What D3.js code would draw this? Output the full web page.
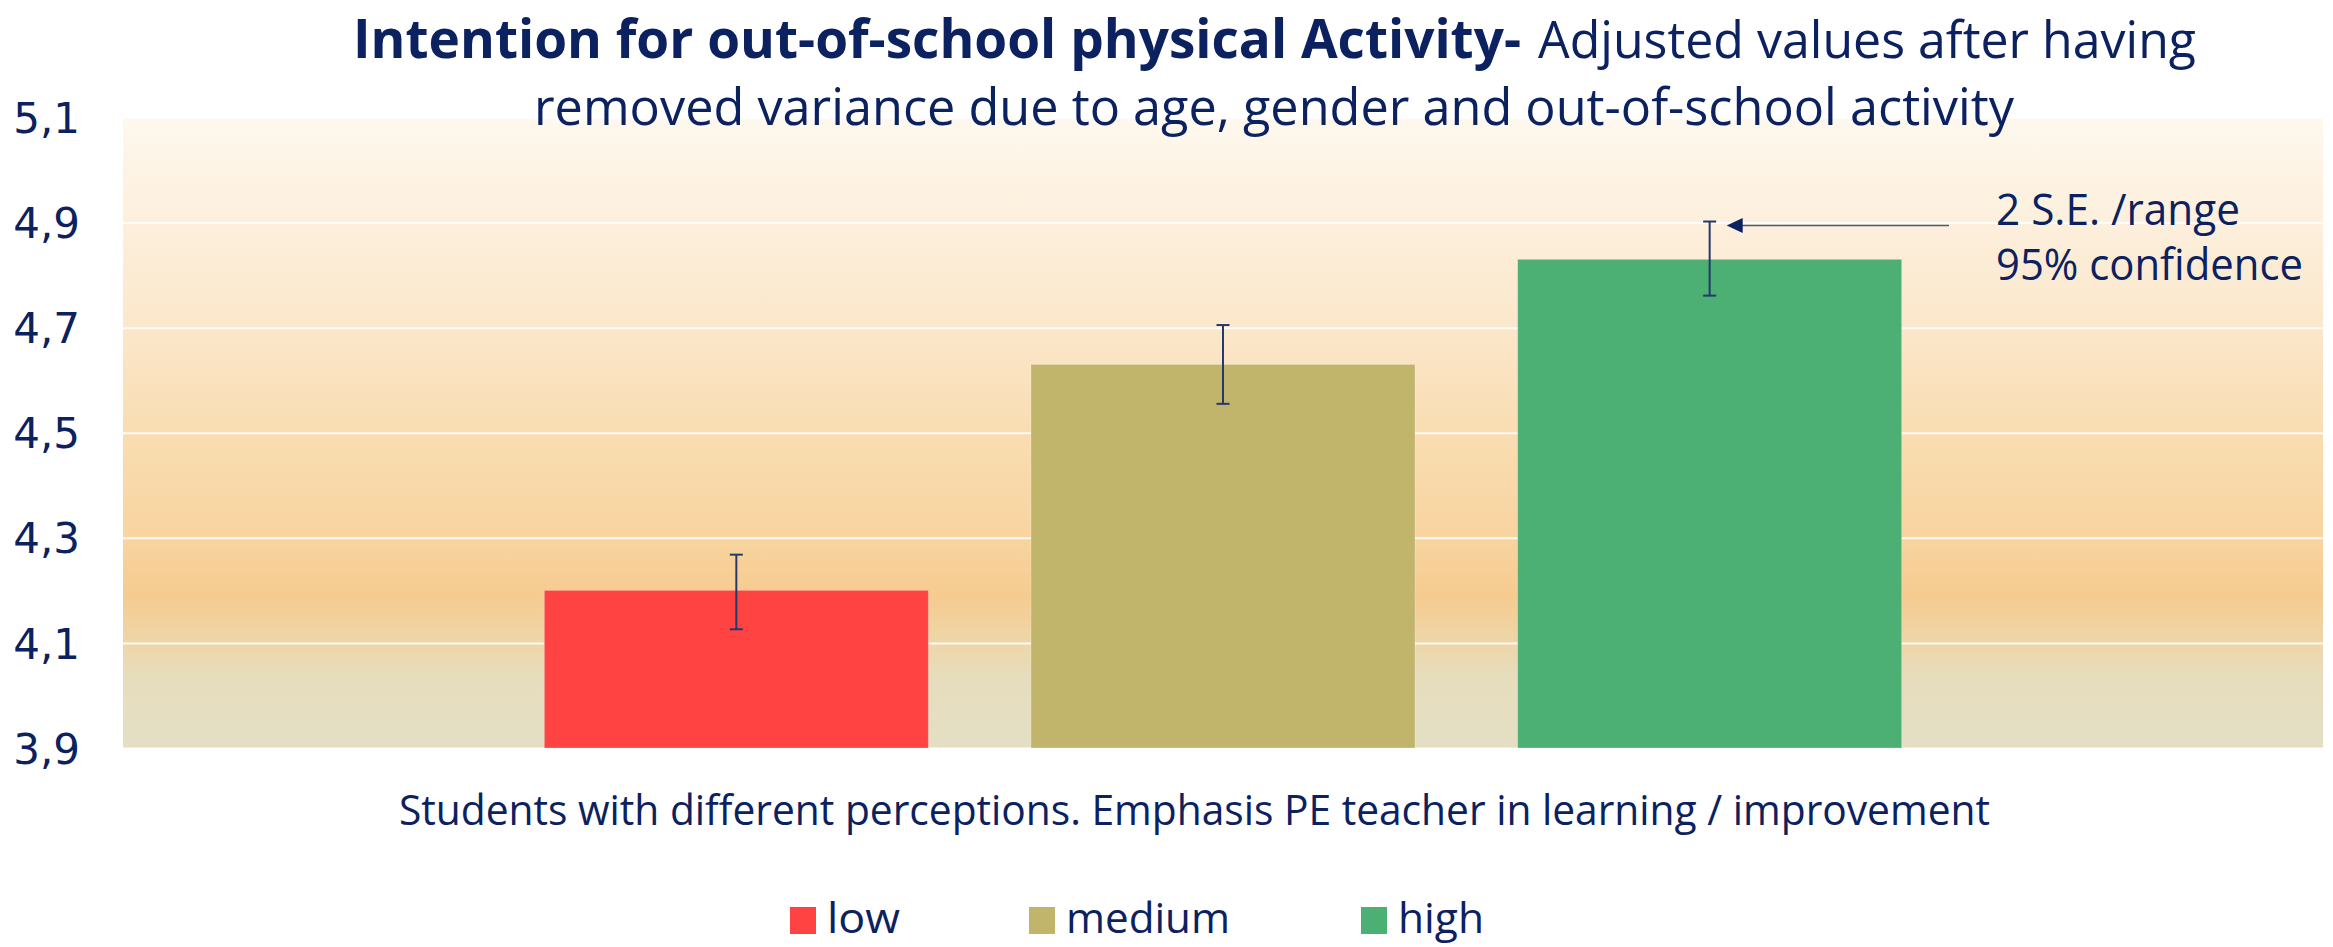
<!DOCTYPE html>
<html>
<head>
<meta charset="utf-8">
<script src="https://cdn.jsdelivr.net/npm/d3@7"></script>
<style>
    html, body { margin: 0; padding: 0; background: #ffffff; }
    svg { display: block; }
    text { fill: #0b2160; }
</style>
</head>
<body>
<div id="divChart"></div>
<script>
// ---- data ----
var categoryLabel = "Students with different perceptions. Emphasis PE teacher in learning / improvement";
var seriesNames = ["low", "medium", "high"];
var meanValues = [4.20, 4.63, 4.83];
var lowerValues = [4.126, 4.555, 4.761];
var upperValues = [4.268, 4.705, 4.902];
var yTickValues = [3.9, 4.1, 4.3, 4.5, 4.7, 4.9, 5.1];

var seriesColors = ["#ff4242", "#c1b46b", "#4caf73"];

var width = 2333, height = 947;
var plot = { left: 123, right: 2323, top: 117.5, bottom: 748 };
var textFont = "'Open Sans', sans-serif";

var svg = d3.select("#divChart").append("svg")
    .attr("width", width)
    .attr("height", height);

//background gradient of the plot area
var defs = svg.append("defs");
var grad = defs.append("linearGradient")
    .attr("id", "plotBg")
    .attr("gradientUnits", "userSpaceOnUse")
    .attr("x1", 0).attr("y1", plot.top)
    .attr("x2", 0).attr("y2", plot.bottom);
[
    [0, "#fef8ee"], [0.33, "#fbe7cb"], [0.5, "#f9ddb2"], [0.67, "#f8d49f"],
    [0.76, "#f6cb90"], [0.83, "#eed6a8"], [0.89, "#e6ddbd"], [1, "#e4dfc4"]
].forEach(function (s) {
    grad.append("stop").attr("offset", s[0]).attr("stop-color", s[1]);
});

var y = d3.scaleLinear()
    .domain([3.9, 5.1])
    .range([plot.bottom, plot.top]);

//one category, three series clustered round the middle of the plot
var x0 = d3.scaleBand()
    .domain([categoryLabel])
    .range([plot.left, plot.right]);
var clusterWidth = 1460;
var xStart = x0(categoryLabel) + (x0.bandwidth() - clusterWidth) / 2;
var x1 = d3.scaleBand()
    .domain(seriesNames)
    .range([xStart, xStart + clusterWidth])
    .paddingInner(0.211)
    .paddingOuter(0.1055);

svg.append("rect")
    .attr("x", plot.left).attr("y", plot.top)
    .attr("width", plot.right - plot.left)
    .attr("height", plot.bottom - plot.top)
    .attr("fill", "url(#plotBg)");

//gridlines
var grid = svg.append("g")
    .attr("transform", "translate(" + plot.left + ",0)")
    .call(d3.axisLeft(y).tickValues(yTickValues).tickSize(-(plot.right - plot.left)).tickFormat(""));
grid.select(".domain").remove();
grid.selectAll("line").attr("stroke", "#ffffff").attr("stroke-width", 2).attr("stroke-opacity", 0.85);

//y tick labels with decimal comma
var locale = d3.formatLocale({ decimal: ",", thousands: ".", grouping: [3], currency: ["", ""] });
var yAxis = svg.append("g")
    .attr("transform", "translate(80,0)")
    .call(d3.axisLeft(y).tickValues(yTickValues).tickSize(0).tickPadding(0).tickFormat(locale.format(".1f")));
yAxis.select(".domain").remove();
yAxis.selectAll("text")
    .attr("font-family", "'DejaVu Sans', sans-serif")
    .attr("font-size", 42)
    .attr("fill", "#0b2160")
    .attr("dy", "0.36em");

//bars
var bars = seriesNames.map(function (name, i) {
    return { name: name, value: meanValues[i], lo: lowerValues[i], hi: upperValues[i], color: seriesColors[i] };
});

svg.append("g").selectAll("rect")
    .data(bars)
    .enter().append("rect")
    .attr("x", function (d) { return x1(d.name); })
    .attr("y", function (d) { return y(d.value); })
    .attr("width", x1.bandwidth())
    .attr("height", function (d) { return y(3.9) - y(d.value); })
    .attr("fill", function (d) { return d.color; })
    .attr("stroke", "#ffffff")
    .attr("stroke-opacity", 0.25)
    .attr("stroke-width", 1);

//error bars
var capHalf = 6.5;
var err = svg.append("g").attr("stroke", "#243a6b").attr("stroke-width", 2).attr("fill", "none");
bars.forEach(function (d) {
    var cx = x1(d.name) + x1.bandwidth() / 2;
    err.append("line").attr("x1", cx).attr("x2", cx).attr("y1", y(d.hi)).attr("y2", y(d.lo));
    err.append("line").attr("x1", cx - capHalf).attr("x2", cx + capHalf).attr("y1", y(d.hi)).attr("y2", y(d.hi));
    err.append("line").attr("x1", cx - capHalf).attr("x2", cx + capHalf).attr("y1", y(d.lo)).attr("y2", y(d.lo));
});

function fitText(sel, w) {
    //force the measured width of the original text
    sel.attr("textLength", w).attr("lengthAdjust", "spacingAndGlyphs");
    return sel;
}

//title (kept just inside the top edge)
fitText(svg.append("text")
    .attr("x", 353).attr("y", 58)
    .attr("font-family", textFont).attr("font-weight", 700).attr("font-size", 54)
    .text("Intention for out-of-school physical Activity-"), 1168);
fitText(svg.append("text")
    .attr("x", 1538).attr("y", 58)
    .attr("font-family", textFont).attr("font-size", 52)
    .text("Adjusted values after having"), 658);
fitText(svg.append("text")
    .attr("x", 534).attr("y", 125)
    .attr("font-family", textFont).attr("font-size", 52)
    .text("removed variance due to age, gender and out-of-school activity"), 1480);

//annotation pointing at the error bar of the last series
var lastBar = bars[bars.length - 1];
var arrowY = y(lastBar.hi) + 4;
var tipX = x1(lastBar.name) + x1.bandwidth() / 2 + 17;
svg.append("line")
    .attr("x1", tipX + 14).attr("x2", 1949)
    .attr("y1", arrowY).attr("y2", arrowY)
    .attr("stroke", "#4a5a84").attr("stroke-width", 1.5);
svg.append("path")
    .attr("d", "M" + tipX + "," + arrowY + "L" + (tipX + 16) + "," + (arrowY - 7.5) + "L" + (tipX + 16) + "," + (arrowY + 7.5) + "Z")
    .attr("fill", "#0b2160");
fitText(svg.append("text")
    .attr("x", 1996).attr("y", 225)
    .attr("font-family", textFont).attr("font-size", 43)
    .text("2 S.E. /range"), 244);
fitText(svg.append("text")
    .attr("x", 1996).attr("y", 280)
    .attr("font-family", textFont).attr("font-size", 43)
    .text("95% confidence"), 307);

//x axis title
fitText(svg.append("text")
    .attr("x", 399).attr("y", 825)
    .attr("font-family", textFont).attr("font-size", 42)
    .text(categoryLabel), 1591);

//legend
var legendX = [790, 1029, 1361];
var legendW = [73, 164, 86];
var legend = svg.append("g").selectAll("g")
    .data(bars)
    .enter().append("g")
    .attr("transform", function (d, i) { return "translate(" + legendX[i] + ",0)"; });
legend.append("rect")
    .attr("x", 0).attr("y", 907)
    .attr("width", 26).attr("height", 27)
    .attr("fill", function (d) { return d.color; });
legend.append("text")
    .attr("x", 37).attr("y", 933)
    .attr("font-family", textFont).attr("font-size", 42)
    .attr("textLength", function (d, i) { return legendW[i]; })
    .attr("lengthAdjust", "spacingAndGlyphs")
    .text(function (d) { return d.name; });
</script>
</body>
</html>
